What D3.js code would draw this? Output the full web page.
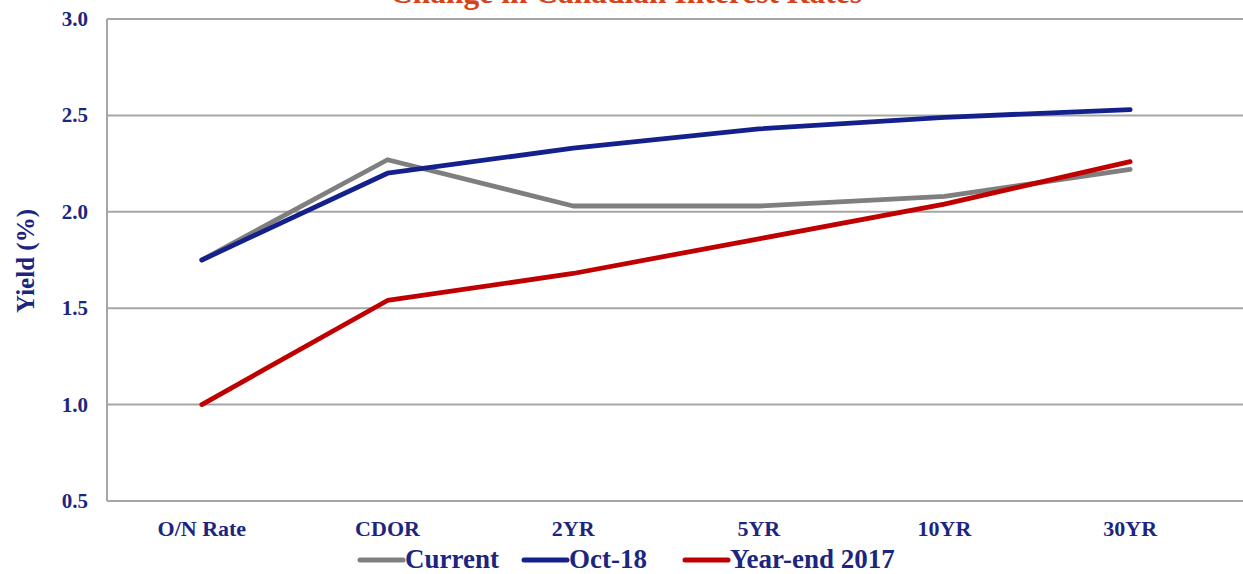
<!DOCTYPE html>
<html>
<head>
<meta charset="utf-8">
<script src="https://cdn.jsdelivr.net/npm/d3@7"></script>
<style>
  body { margin: 0; background: #fff; }
  svg { display: block; font-family: "Liberation Serif", "Times New Roman", serif; font-weight: bold; }
  .grid { stroke: #a6a6a6; stroke-width: 2; }
  .tick-lbl { fill: #1c2680; font-size: 21px; }
  .x-lbl { fill: #1c2680; font-size: 22px; }
</style>
</head>
<body>
<svg id="chart"></svg>
<script>
  // data
  const categories = ["O/N Rate", "CDOR", "2YR", "5YR", "10YR", "30YR"];
  const current    = [1.75, 2.27, 2.03, 2.03, 2.08, 2.22];
  const oct18      = [1.75, 2.20, 2.33, 2.43, 2.49, 2.53];
  const yearEnd17  = [1.00, 1.54, 1.68, 1.86, 2.04, 2.26];
  const yTicks     = [0.5, 1.0, 1.5, 2.0, 2.5, 3.0];
  const seriesNames = ["Current", "Oct-18", "Year-end 2017"];

  const series = [
    { name: seriesNames[0], values: current,   color: "#7f7f7f" },
    { name: seriesNames[1], values: oct18,     color: "#14218c" },
    { name: seriesNames[2], values: yearEnd17, color: "#c00000" },
  ];

  const W = 1243, H = 574;
  const plot = { left: 107, right: 1243, top: 19, bottom: 501 };

  const svg = d3.select("#chart").attr("width", W).attr("height", H);

  const x = d3.scaleBand().domain(categories).range([109, 1223]).padding(0);
  const y = d3.scaleLinear().domain([0.5, 3.0]).range([plot.bottom, plot.top]);
  const cx = (c) => x(c) + x.bandwidth() / 2;

  // title (clipped at the top edge as in the source)
  svg.append("text")
    .attr("x", 626).attr("y", 3)
    .attr("text-anchor", "middle")
    .attr("fill", "#d6421a")
    .attr("font-size", 31.5)
    .text("Change in Canadian Interest Rates");

  // gridlines
  svg.append("g").selectAll("line").data(yTicks).join("line")
    .attr("class", "grid")
    .attr("x1", plot.left).attr("x2", plot.right)
    .attr("y1", (d) => y(d)).attr("y2", (d) => y(d));

  // left axis line
  svg.append("line").attr("class", "grid")
    .attr("x1", plot.left).attr("x2", plot.left)
    .attr("y1", plot.top).attr("y2", plot.bottom);

  // y tick labels
  svg.append("g").selectAll("text").data(yTicks).join("text")
    .attr("class", "tick-lbl")
    .attr("x", 88).attr("y", (d) => y(d) + 7)
    .attr("text-anchor", "end")
    .text(d3.format(".1f"));

  // y axis title
  svg.append("text")
    .attr("transform", "translate(34,261) rotate(-90)")
    .attr("text-anchor", "middle")
    .attr("fill", "#1c2680")
    .attr("font-size", 25)
    .text("Yield (%)");

  // x labels
  svg.append("g").selectAll("text").data(categories).join("text")
    .attr("class", "x-lbl")
    .attr("x", cx).attr("y", 536)
    .attr("text-anchor", "middle")
    .text((d) => d);

  // lines
  const line = d3.line()
    .x((d, i) => cx(categories[i]))
    .y((d) => y(d));

  svg.append("g").selectAll("path").data(series).join("path")
    .attr("d", (s) => line(s.values))
    .attr("fill", "none")
    .attr("stroke", (s) => s.color)
    .attr("stroke-width", 4.8)
    .attr("stroke-linecap", "round")
    .attr("stroke-linejoin", "round");

  // legend
  const legendX = [358, 522, 683];
  const lg = svg.append("g");
  series.forEach((s, i) => {
    lg.append("line")
      .attr("x1", legendX[i] + 2).attr("x2", legendX[i] + 45)
      .attr("y1", 560).attr("y2", 560)
      .attr("stroke", s.color).attr("stroke-width", 5)
      .attr("stroke-linecap", "round");
    lg.append("text")
      .attr("x", legendX[i] + 47).attr("y", 568)
      .attr("fill", "#1c2680")
      .attr("font-size", 27)
      .text(s.name);
  });
</script>
</body>
</html>
